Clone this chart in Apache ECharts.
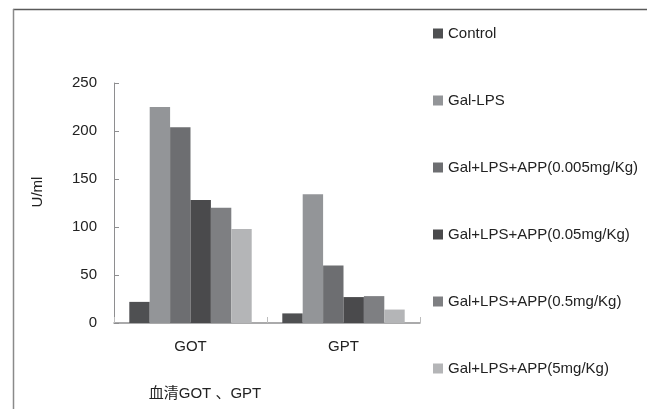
<!DOCTYPE html>
<html><head><meta charset="utf-8">
<script src="https://cdn.jsdelivr.net/npm/echarts@6/dist/echarts.min.js"></script>
<style>html,body{margin:0;padding:0;background:#fff}#c{width:647px;height:409px}</style>
</head><body><div id="c"></div>
<script>
const categories = ['GOT', 'GPT'];
const seriesNames = ['Control', 'Gal-LPS', 'Gal+LPS+APP(0.005mg/Kg)', 'Gal+LPS+APP(0.05mg/Kg)', 'Gal+LPS+APP(0.5mg/Kg)', 'Gal+LPS+APP(5mg/Kg)'];
const control = [22, 10];
const galLps = [225, 134];
const app0005 = [204, 60];
const app005 = [128, 27];
const app05 = [120, 28];
const app5 = [98, 14];
const colors = ['#4f5052', '#939598', '#6d6e71', '#4a4a4c', '#7e7f82', '#b4b5b7'];
const values = [control, galLps, app0005, app005, app05, app5];
const font = 'Liberation Sans, Noto Sans CJK SC, sans-serif';

const chart = echarts.init(document.getElementById('c'), null, {renderer: 'canvas'});
chart.setOption({
  animation: false,
  textStyle: {fontFamily: font},
  graphic: [
    {type: 'line', shape: {x1: 13, y1: 9.5, x2: 647, y2: 9.5}, style: {stroke: '#5a5a5a', lineWidth: 1.5}},
    {type: 'line', shape: {x1: 13.5, y1: 9, x2: 13.5, y2: 409}, style: {stroke: '#8a8a8a', lineWidth: 1.5}}
  ],
  grid: {left: 114, right: 227, top: 83, bottom: 86, containLabel: false},
  legend: {
    orient: 'vertical', left: 433, top: 26, padding: 0, itemWidth: 10, itemHeight: 10, itemGap: 52,
    icon: 'rect',
    textStyle: {fontSize: 15, color: '#222', fontFamily: font},
    data: seriesNames
  },
  xAxis: {
    type: 'category', data: categories,
    axisLine: {lineStyle: {color: '#8e8e90', width: 1.5}},
    axisTick: {show: true, inside: true, length: 6, lineStyle: {color: '#bdbdbd'}},
    axisLabel: {fontSize: 15, color: '#222', margin: 16},
    name: '血清GOT 、GPT', nameLocation: 'middle', nameGap: 63,
    nameTextStyle: {fontSize: 15, color: '#222', padding: [0, 124, 0, 0]}
  },
  yAxis: {
    type: 'value', min: 0, max: 250, interval: 50,
    axisLine: {show: true, lineStyle: {color: '#8e8e90', width: 1}},
    axisTick: {show: true, inside: true, length: 5, lineStyle: {color: '#8e8e90'}},
    splitLine: {show: false},
    axisLabel: {fontSize: 15, color: '#222', margin: 17},
    name: 'U/ml', nameLocation: 'middle', nameGap: 69,
    nameTextStyle: {fontSize: 15, color: '#222', padding: [0, 0, 0, 22]}
  },
  series: values.map((v, i) => ({
    name: seriesNames[i], type: 'bar', data: v,
    barGap: '0%', barCategoryGap: '20%',
    itemStyle: {color: colors[i]}
  }))
});
</script></body></html>
